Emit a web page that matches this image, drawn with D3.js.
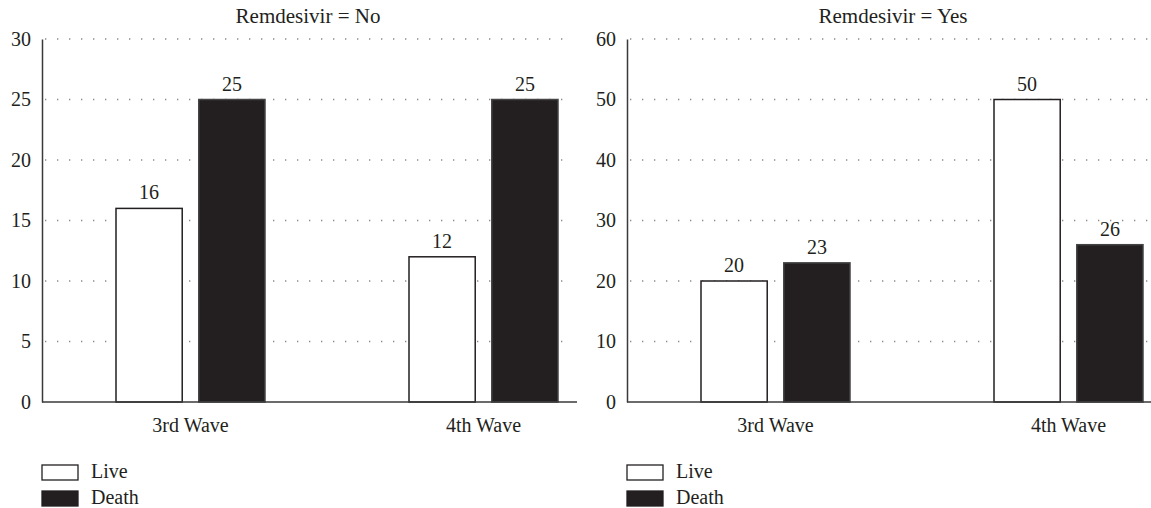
<!DOCTYPE html>
<html>
<head>
<meta charset="utf-8">
<script src="https://cdn.jsdelivr.net/npm/d3@7"></script>
<style>
  html, body { margin: 0; padding: 0; background: #fff; }
  svg { display: block; }
  text { font-family: "Liberation Serif", "DejaVu Serif", serif; fill: #231f20; }
</style>
</head>
<body>
<svg id="chart" width="1151" height="508"></svg>
<script>
// ---- Data ----
const categories = ["3rd Wave", "4th Wave"];
const seriesNames = ["Live", "Death"];
const panelTitles = ["Remdesivir = No", "Remdesivir = Yes"];
const liveNo = [16, 12];
const deathNo = [25, 25];
const liveYes = [20, 50];
const deathYes = [23, 26];
const yTicksNo = [0, 5, 10, 15, 20, 25, 30];
const yTicksYes = [0, 10, 20, 30, 40, 50, 60];

const panels = [
  { title: panelTitles[0], live: liveNo, death: deathNo, ticks: yTicksNo, max: 30, x0: 42 },
  { title: panelTitles[1], live: liveYes, death: deathYes, ticks: yTicksYes, max: 60, x0: 627 }
];

const svg = d3.select("#chart");
const ink = "#231f20";
const fontSize = 20;
const yTop = 39, yBottom = 402;
const plotW = 535;

const colorFill = d3.scaleOrdinal().domain(seriesNames).range(["#ffffff", ink]);

panels.forEach(p => {
  const g = svg.append("g");
  const y = d3.scaleLinear().domain([0, p.max]).range([yBottom, yTop]);
  const x = d3.scaleBand().domain(categories).range([p.x0 + 2, p.x0 + 588]).padding(0);
  const xs = d3.scaleBand().domain(seriesNames).range([-74.5, 74.5]).paddingInner(0.2);

  // gridlines (dotted)
  g.append("g").selectAll("line").data(p.ticks.filter(t => t > 0)).join("line")
    .attr("x1", p.x0 + 3).attr("x2", p.x0 + 531)
    .attr("y1", d => y(d)).attr("y2", d => y(d))
    .attr("stroke", "#888").attr("stroke-width", 1.3)
    .attr("stroke-dasharray", "1.3,10.7");

  // y axis
  const yAxis = d3.axisLeft(y).tickValues(p.ticks).tickSize(0).tickPadding(11);
  const ya = g.append("g").attr("transform", `translate(${p.x0},0)`).call(yAxis);
  ya.select(".domain").attr("stroke", "#3a3a3a").attr("stroke-width", 1.5);
  ya.selectAll("text").attr("font-size", fontSize)
    .attr("font-family", "Liberation Serif").attr("fill", ink);

  // bars
  const rows = [];
  categories.forEach((c, i) => {
    rows.push({ cat: c, s: "Live", v: p.live[i] });
    rows.push({ cat: c, s: "Death", v: p.death[i] });
  });
  const bx = d => x(d.cat) + x.bandwidth() / 2 + xs(d.s);
  g.append("g").selectAll("rect").data(rows).join("rect")
    .attr("x", bx)
    .attr("width", xs.bandwidth())
    .attr("y", d => y(d.v))
    .attr("height", d => y(0) - y(d.v))
    .attr("fill", d => colorFill(d.s))
    .attr("stroke", d => d.s === "Live" ? ink : "#444")
    .attr("stroke-width", 1.5);

  // value labels
  g.append("g").selectAll("text").data(rows).join("text")
    .attr("x", d => bx(d) + xs.bandwidth() / 2)
    .attr("y", d => y(d.v) - 9)
    .attr("text-anchor", "middle")
    .attr("font-size", fontSize)
    .text(d => d.v);

  // x axis line
  g.append("line")
    .attr("x1", p.x0).attr("x2", p.x0 + plotW)
    .attr("y1", y(0)).attr("y2", y(0))
    .attr("stroke", "#3a3a3a").attr("stroke-width", 1.5);

  // x axis labels
  const xAxis = d3.axisBottom(x).tickSize(0).tickPadding(0);
  const xa = g.append("g").attr("transform", `translate(0,${yBottom + 16})`).call(xAxis);
  xa.select(".domain").remove();
  xa.selectAll("text").attr("font-size", fontSize)
    .attr("font-family", "Liberation Serif").attr("fill", ink).attr("dy", "0.71em");

  // title
  g.append("text")
    .attr("x", p.x0 + 266).attr("y", 23)
    .attr("text-anchor", "middle")
    .attr("font-size", 21)
    .text(p.title);

  // legend
  const lg = g.append("g").attr("transform", `translate(${p.x0},465)`);
  seriesNames.forEach((s, i) => {
    lg.append("rect")
      .attr("x", 0).attr("y", i * 26)
      .attr("width", 36).attr("height", 15)
      .attr("fill", colorFill(s))
      .attr("stroke", ink).attr("stroke-width", 1.3);
    lg.append("text")
      .attr("x", 49).attr("y", i * 26 + 12.5)
      .attr("font-size", fontSize)
      .text(s);
  });
});
</script>
</body>
</html>
